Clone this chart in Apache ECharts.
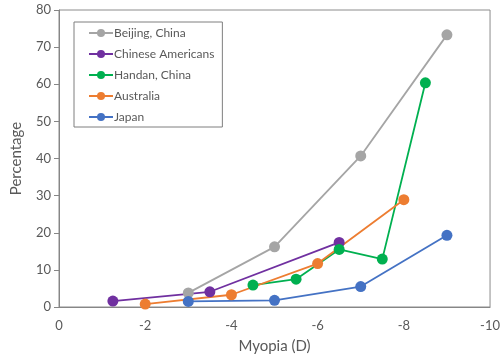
<!DOCTYPE html>
<html>
<head>
<meta charset="utf-8">
<script src="https://cdn.jsdelivr.net/npm/echarts@6/dist/echarts.min.js"></script>
<style>
  html, body { margin: 0; padding: 0; background: #fff; }
  #chart { width: 503px; height: 362px; }
</style>
</head>
<body>
<div id="chart"></div>
<script>
// Myopia prevalence by refractive threshold (diopters, negative = myopic)
const seriesNames = ['Beijing, China', 'Chinese Americans', 'Handan, China', 'Australia', 'Japan'];
const seriesColors = ['#A5A5A5', '#7030A0', '#00B050', '#ED7D31', '#4472C4'];

const beijingX = [-3, -5, -7, -9];
const beijingY = [3.8, 16.2, 40.7, 73.3];

const chineseAmericansX = [-1.25, -3.5, -6.5];
const chineseAmericansY = [1.6, 4.1, 17.4];

const handanX = [-4.5, -5.5, -6.5, -7.5, -8.5];
const handanY = [5.9, 7.5, 15.5, 12.9, 60.4];

const australiaX = [-2, -4, -6, -8];
const australiaY = [0.8, 3.3, 11.7, 28.9];

const japanX = [-3, -5, -7, -9];
const japanY = [1.5, 1.8, 5.5, 19.3];

const xValues = [beijingX, chineseAmericansX, handanX, australiaX, japanX];
const yValues = [beijingY, chineseAmericansY, handanY, australiaY, japanY];

const FONT = 'Lato';
const TEXT = '#595959';

const series = seriesNames.map((name, i) => ({
  name: name,
  type: 'line',
  data: xValues[i].map((x, j) => [x, yValues[i][j]]),
  symbol: 'circle',
  symbolSize: 11,
  showSymbol: true,
  lineStyle: { color: seriesColors[i], width: 1.8 },
  itemStyle: { color: seriesColors[i] },
  animation: false
}));

const chart = echarts.init(document.getElementById('chart'));
chart.setOption({
  backgroundColor: '#fff',
  textStyle: { fontFamily: FONT },
  grid: {
    left: 59, right: 11, top: 10, bottom: 55,
    show: true, borderColor: '#8c8c8c', borderWidth: 1
  },
  legend: {
    orient: 'vertical',
    left: 74, top: 22,
    padding: [5, 8, 4, 14],
    itemGap: 9,
    itemWidth: 24,
    itemHeight: 10,
    borderColor: '#7f7f7f',
    borderWidth: 1,
    textStyle: { color: TEXT, fontSize: 12, fontFamily: FONT, padding: [0, 0, 0, -4] },
    data: seriesNames
  },
  xAxis: {
    type: 'value',
    min: -10, max: 0, interval: 2,
    inverse: true,
    name: 'Myopia (D)',
    nameLocation: 'middle',
    nameGap: 32,
    nameTextStyle: { color: TEXT, fontSize: 15, fontFamily: FONT },
    axisLine: { show: true, lineStyle: { color: '#868686', width: 1 } },
    axisTick: { show: false },
    axisLabel: { color: TEXT, fontSize: 13, fontFamily: FONT, margin: 12 },
    splitLine: { show: false }
  },
  yAxis: {
    type: 'value',
    min: 0, max: 80, interval: 10,
    name: 'Percentage',
    nameLocation: 'middle',
    nameGap: 35,
    nameTextStyle: { color: TEXT, fontSize: 15, fontFamily: FONT },
    axisLine: { show: true, lineStyle: { color: '#868686', width: 1 } },
    axisTick: { show: true, length: 5, inside: false, lineStyle: { color: '#868686' } },
    axisLabel: { color: TEXT, fontSize: 13, fontFamily: FONT, margin: 8 },
    splitLine: { show: false }
  },
  series: series
});
</script>
</body>
</html>
